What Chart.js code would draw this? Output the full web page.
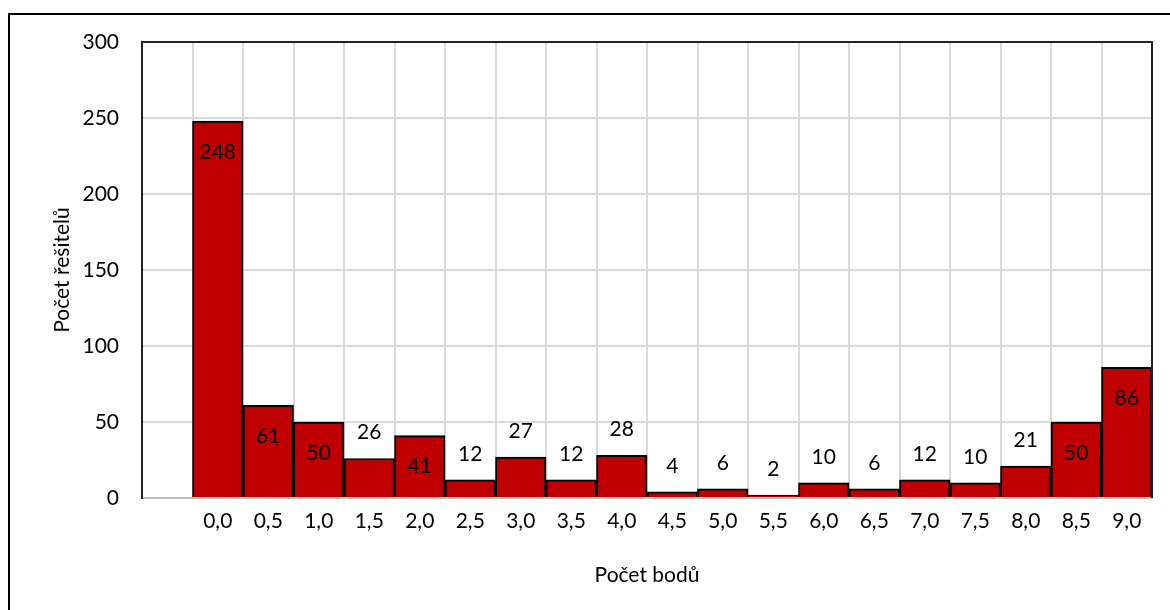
<!DOCTYPE html>
<html>
<head>
<meta charset="utf-8">
<script src="https://cdn.jsdelivr.net/npm/chart.js@4"></script>
<style>
  html, body { margin: 0; padding: 0; background: #fff; }
  canvas { display: block; }
</style>
</head>
<body>
<canvas id="histChart" width="1170" height="610"></canvas>
<script>
// first slot is empty on purpose, like in the original
const categories = ["", "0,0", "0,5", "1,0", "1,5", "2,0", "2,5", "3,0", "3,5", "4,0", "4,5",
                    "5,0", "5,5", "6,0", "6,5", "7,0", "7,5", "8,0", "8,5", "9,0"];
const counts = [null, 248, 61, 50, 26, 41, 12, 27, 12, 28, 4, 6, 2, 10, 6, 12, 10, 21, 50, 86];
const yTicks = [0, 50, 100, 150, 200, 250, 300];

const FONT = "Lato, 'Open Sans', sans-serif";
const FSIZE = 21;

// labels: inside the bar when tall, above it when small
const barLabels = {
  id: "barLabels",
  afterDatasetsDraw(chart) {
    const ctx = chart.ctx;
    const meta = chart.getDatasetMeta(0);
    ctx.save();
    ctx.font = FSIZE + "px " + FONT;
    ctx.fillStyle = "#000";
    ctx.textAlign = "center";
    ctx.textBaseline = "middle";
    meta.data.forEach((bar, i) => {
      const v = counts[i];
      if (v == null) return;
      const y = v >= 30 ? bar.y + 31 : bar.y - 26;
      ctx.fillText(String(v), bar.x, y);
    });
    ctx.restore();
  }
};

const frame = {
  id: "frame",
  beforeDatasetsDraw(chart) {
    const ctx = chart.ctx;
    ctx.save();
    ctx.shadowColor = "rgba(0,0,0,0.25)";
    ctx.shadowBlur = 6;
    ctx.shadowOffsetX = 2;
    ctx.shadowOffsetY = 2;
  },
  afterDatasetsDraw(chart) {
    chart.ctx.restore();
  },
  afterDraw(chart) {
    const ctx = chart.ctx;
    const a = chart.chartArea;
    ctx.save();
    // outer chart border
    ctx.strokeStyle = "#000";
    ctx.lineWidth = 2;
    ctx.strokeRect(9, 14, 1180, 620);
    // plot area edges
    ctx.strokeStyle = "#222";
    ctx.beginPath();
    ctx.moveTo(a.left, a.bottom);
    ctx.lineTo(a.left, a.top);
    ctx.lineTo(a.right, a.top);
    ctx.lineTo(a.right, a.bottom);
    ctx.stroke();
    // axis titles
    ctx.fillStyle = "#000";
    ctx.font = FSIZE + "px " + FONT;
    ctx.textAlign = "center";
    ctx.textBaseline = "middle";
    ctx.fillText("Počet bodů", (a.left + a.right) / 2, 575);
    ctx.translate(62, (a.top + a.bottom) / 2);
    ctx.rotate(-Math.PI / 2);
    ctx.fillText("Počet řešitelů", 0, 0);
    ctx.restore();
  }
};

new Chart(document.getElementById("histChart"), {
  type: "bar",
  data: {
    labels: categories,
    datasets: [{
      label: "Počet řešitelů",
      data: counts,
      backgroundColor: "#C00000",
      borderColor: "#000",
      borderWidth: 2,
      barPercentage: 1,
      categoryPercentage: 1
    }]
  },
  options: {
    responsive: false,
    animation: false,
    layout: { padding: { top: 42, right: 18, left: 0, bottom: 0 } },
    plugins: {
      legend: { display: false },
      tooltip: { enabled: false }
    },
    scales: {
      x: {
        grid: { color: "#d9d9d9", lineWidth: 2, offset: true, drawTicks: false },
        border: { color: "#bfbfbf", width: 2 },
        ticks: { color: "#000", font: { family: FONT, size: FSIZE }, padding: 11, maxRotation: 0, autoSkip: false },
        afterFit(scale) { scale.height = 112; }
      },
      y: {
        min: 0,
        max: 300,
        afterBuildTicks(scale) { scale.ticks = yTicks.map(v => ({ value: v })); },
        grid: { color: "#d9d9d9", lineWidth: 2, drawTicks: false },
        border: { color: "#222", width: 2 },
        ticks: { color: "#000", font: { family: FONT, size: FSIZE }, padding: 23 },
        afterFit(scale) { scale.width = 142; }
      }
    }
  },
  plugins: [frame, barLabels]
});
</script>
</body>
</html>
